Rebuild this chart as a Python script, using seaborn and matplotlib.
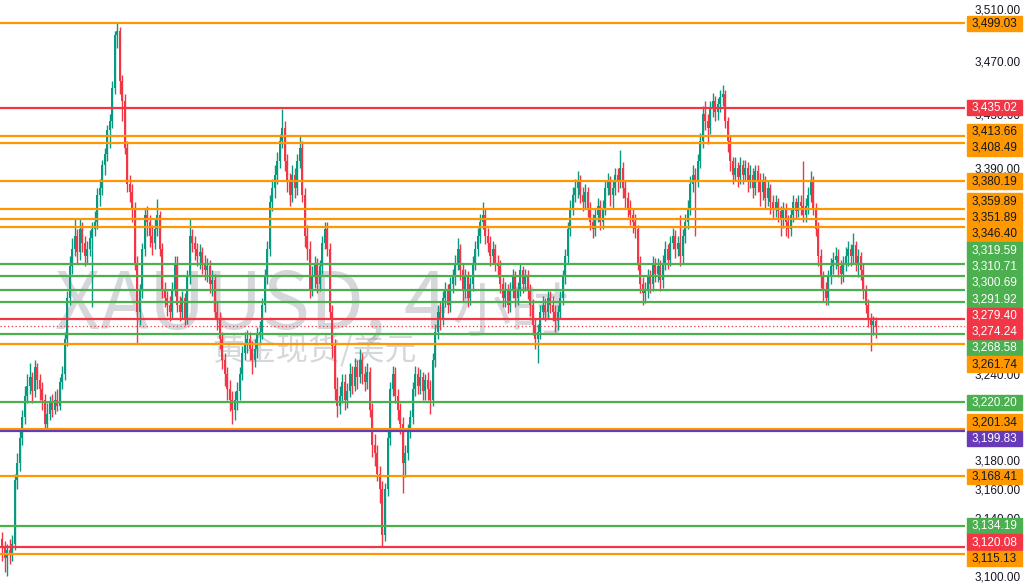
import numpy as np
import pandas as pd
import matplotlib
matplotlib.use("Agg")
import matplotlib.pyplot as plt
import seaborn as sns
from matplotlib.patches import Rectangle

# 4h candles (open = previous close)
first_open = 3125
closes = [
    3120, 3112, 3118, 3115, 3122, 3166, 3178, 3195, 3210, 3225,
    3232, 3238, 3228, 3245, 3236, 3230, 3222, 3205, 3212, 3220,
    3215, 3222, 3218, 3235, 3240, 3265, 3295, 3318, 3330, 3340,
    3328, 3345, 3335, 3325, 3330, 3338, 3345, 3350, 3370, 3375,
    3392, 3400, 3418, 3425, 3450, 3490, 3493, 3455, 3440, 3405,
    3378, 3372, 3360, 3320, 3285, 3300, 3330, 3355, 3350, 3340,
    3335, 3345, 3355, 3330, 3300, 3295, 3290, 3285, 3300, 3320,
    3290, 3285, 3295, 3280, 3310, 3340, 3335, 3330, 3325, 3328,
    3320, 3315, 3318, 3305, 3308, 3285, 3280, 3265, 3250, 3240,
    3230, 3222, 3215, 3222, 3228, 3240, 3255, 3262, 3265, 3258,
    3250, 3258, 3268, 3270, 3290, 3310, 3330, 3365, 3375, 3385,
    3395, 3410, 3420, 3395, 3380, 3370, 3385, 3375, 3395, 3405,
    3370, 3340, 3330, 3300, 3310, 3320, 3305, 3318, 3335, 3345,
    3330, 3285, 3260, 3230, 3218, 3225, 3235, 3222, 3228, 3240,
    3232, 3245, 3238, 3250, 3240, 3235, 3242, 3215, 3190, 3185,
    3170, 3160, 3128, 3160, 3195, 3230, 3240, 3225, 3215, 3205,
    3178, 3185, 3200, 3210, 3230, 3240, 3232, 3238, 3228, 3236,
    3230, 3222, 3250, 3270, 3285, 3280, 3295, 3300, 3290, 3305,
    3310, 3320, 3330, 3315, 3300, 3310, 3295, 3305, 3320, 3330,
    3340, 3350, 3355, 3340, 3335, 3325, 3330, 3320, 3318, 3305,
    3295, 3300, 3290, 3300, 3310, 3295, 3300, 3315, 3305, 3310,
    3300, 3290, 3275, 3265, 3270, 3285, 3290, 3285, 3295, 3290,
    3285, 3278, 3285, 3295, 3310, 3325, 3345, 3360, 3370, 3375,
    3380, 3370, 3365, 3372, 3360, 3350, 3345, 3355, 3362, 3350,
    3360, 3375, 3380, 3370, 3375, 3385, 3380, 3390, 3375, 3368,
    3360, 3355, 3350, 3345, 3320, 3305, 3298, 3300, 3310, 3305,
    3320, 3312, 3318, 3308, 3320, 3330, 3322, 3335, 3340, 3330,
    3335, 3325, 3340, 3350, 3360, 3378, 3385, 3380, 3395, 3410,
    3430, 3425, 3420, 3435, 3440, 3432, 3438, 3443, 3445, 3425,
    3410, 3395, 3385, 3390, 3383, 3392, 3385, 3390, 3380, 3385,
    3375, 3388, 3380, 3372, 3380, 3368, 3375, 3365, 3360, 3365,
    3358, 3352, 3360, 3350, 3345, 3355, 3365, 3358, 3365, 3362,
    3355, 3362, 3370, 3380, 3360, 3345, 3325, 3310, 3300, 3295,
    3310, 3318, 3322, 3325, 3318, 3312, 3320, 3325, 3330, 3325,
    3333, 3320, 3325, 3315, 3300, 3290, 3280, 3275, 3278, 3274,
]
highs = [
    3130, 3124, 3122, 3125, 3128, 3170, 3185, 3200, 3215, 3232,
    3240, 3248, 3242, 3250, 3248, 3240, 3235, 3226, 3220, 3225,
    3226, 3228, 3230, 3238, 3246, 3270, 3300, 3325, 3338, 3352,
    3345, 3352, 3350, 3340, 3336, 3344, 3350, 3358, 3375, 3382,
    3396, 3405, 3422, 3430, 3455, 3493, 3500, 3496, 3460, 3445,
    3410, 3385, 3378, 3365, 3325, 3305, 3335, 3360, 3362, 3355,
    3348, 3352, 3367, 3358, 3335, 3306, 3300, 3296, 3306, 3325,
    3325, 3296, 3300, 3298, 3315, 3353, 3345, 3340, 3335, 3334,
    3332, 3326, 3324, 3322, 3315, 3312, 3292, 3285, 3270, 3255,
    3245, 3236, 3228, 3228, 3235, 3245, 3260, 3270, 3272, 3270,
    3264, 3265, 3274, 3278, 3295, 3316, 3336, 3370, 3382, 3392,
    3402, 3415, 3434, 3425, 3400, 3386, 3392, 3390, 3400, 3414,
    3410, 3375, 3348, 3336, 3318, 3325, 3324, 3322, 3340, 3350,
    3350, 3335, 3290, 3265, 3238, 3232, 3240, 3240, 3234, 3248,
    3246, 3252, 3250, 3258, 3255, 3246, 3248, 3245, 3220, 3198,
    3190, 3176, 3165, 3164, 3200, 3235, 3246, 3245, 3230, 3220,
    3210, 3190, 3205, 3215, 3235, 3246, 3245, 3244, 3242, 3240,
    3242, 3236, 3255, 3276, 3290, 3292, 3300, 3306, 3305, 3310,
    3316, 3326, 3338, 3334, 3320, 3316, 3314, 3310, 3325, 3336,
    3346, 3356, 3365, 3360, 3346, 3340, 3336, 3334, 3326, 3322,
    3310, 3306, 3305, 3306, 3316, 3314, 3306, 3320, 3318, 3316,
    3315, 3305, 3294, 3280, 3276, 3290, 3296, 3295, 3300, 3300,
    3296, 3290, 3290, 3300, 3315, 3330, 3350, 3366, 3376, 3382,
    3388, 3385, 3376, 3378, 3376, 3365, 3356, 3360, 3368, 3366,
    3366, 3380, 3386, 3384, 3380, 3390, 3390, 3403, 3394, 3380,
    3372, 3366, 3360, 3356, 3348, 3325, 3310, 3306, 3316, 3315,
    3325, 3324, 3324, 3322, 3326, 3336, 3334, 3340, 3346, 3344,
    3340, 3355, 3345, 3356, 3366, 3384, 3392, 3390, 3400, 3416,
    3436, 3440, 3430, 3440, 3446, 3444, 3442, 3448, 3452, 3448,
    3428, 3414, 3398, 3398, 3394, 3398, 3396, 3396, 3394, 3392,
    3390, 3392, 3392, 3386, 3386, 3384, 3380, 3378, 3370, 3370,
    3368, 3362, 3365, 3364, 3355, 3360, 3370, 3368, 3370, 3370,
    3395, 3368, 3376, 3388, 3384, 3364, 3350, 3330, 3314, 3306,
    3315, 3324, 3328, 3332, 3330, 3322, 3325, 3332, 3336, 3334,
    3342, 3336, 3330, 3328, 3320, 3304, 3294, 3284, 3282, 3281,
]
lows = [
    3110, 3103, 3100, 3108, 3110, 3118, 3160, 3172, 3190, 3205,
    3220, 3226, 3220, 3224, 3230, 3222, 3215, 3200, 3202, 3208,
    3210, 3212, 3214, 3215, 3230, 3236, 3260, 3290, 3312, 3325,
    3320, 3322, 3328, 3318, 3320, 3325, 3288, 3340, 3345, 3362,
    3370, 3385, 3395, 3405, 3420, 3445, 3480, 3445, 3425, 3400,
    3372, 3365, 3350, 3315, 3262, 3275, 3295, 3325, 3340, 3332,
    3326, 3330, 3340, 3325, 3295, 3288, 3282, 3278, 3280, 3296,
    3285, 3278, 3280, 3275, 3276, 3305, 3328, 3322, 3318, 3316,
    3312, 3308, 3306, 3298, 3296, 3280, 3272, 3258, 3244, 3232,
    3222, 3214, 3205, 3208, 3215, 3222, 3236, 3250, 3255, 3250,
    3240, 3245, 3252, 3262, 3265, 3285, 3305, 3325, 3358, 3368,
    3378, 3390, 3405, 3388, 3372, 3362, 3365, 3368, 3370, 3390,
    3365, 3332, 3322, 3295, 3296, 3302, 3298, 3300, 3312, 3330,
    3325, 3280, 3252, 3222, 3210, 3212, 3220, 3215, 3216, 3224,
    3226, 3228, 3230, 3234, 3233, 3228, 3230, 3210, 3182, 3176,
    3165, 3150, 3120, 3124, 3155, 3190, 3225, 3220, 3208, 3198,
    3157, 3168, 3180, 3195, 3205, 3225, 3226, 3226, 3222, 3222,
    3222, 3212, 3218, 3245, 3265, 3272, 3275, 3288, 3284, 3285,
    3298, 3304, 3315, 3308, 3292, 3295, 3288, 3290, 3300, 3315,
    3325, 3335, 3345, 3334, 3328, 3318, 3320, 3314, 3310, 3298,
    3288, 3288, 3284, 3285, 3295, 3288, 3290, 3296, 3298, 3300,
    3294, 3282, 3268, 3258, 3248, 3265, 3280, 3278, 3280, 3284,
    3278, 3270, 3272, 3280, 3290, 3305, 3320, 3340, 3355, 3365,
    3368, 3364, 3358, 3360, 3354, 3344, 3338, 3340, 3350, 3344,
    3345, 3355, 3370, 3362, 3360, 3370, 3372, 3375, 3368, 3360,
    3354, 3348, 3342, 3338, 3315, 3298, 3290, 3291, 3295, 3298,
    3300, 3306, 3306, 3300, 3302, 3315, 3316, 3318, 3330, 3324,
    3325, 3318, 3320, 3335, 3345, 3355, 3372, 3340, 3376, 3390,
    3405, 3418, 3408, 3415, 3428, 3425, 3426, 3432, 3436, 3420,
    3402, 3388, 3378, 3380, 3376, 3378, 3378, 3380, 3372, 3375,
    3368, 3370, 3372, 3362, 3366, 3360, 3362, 3356, 3352, 3354,
    3350, 3340, 3346, 3340, 3338, 3340, 3350, 3352, 3354, 3355,
    3350, 3350, 3356, 3365, 3355, 3340, 3318, 3302, 3292, 3290,
    3290, 3305, 3312, 3316, 3310, 3305, 3306, 3314, 3318, 3318,
    3320, 3314, 3310, 3308, 3294, 3284, 3274, 3257, 3268, 3266,
]

# horizontal levels drawn on the chart
level_prices = [3499.03, 3435.02, 3413.66, 3408.49, 3380.19, 3359.89, 3351.89,
                3346.40, 3319.59, 3310.71, 3300.69, 3291.92, 3279.40, 3268.58,
                3261.74, 3220.20, 3201.34, 3199.83, 3168.41, 3134.19, 3120.08,
                3115.13]
level_kinds = ["o", "r", "o", "o", "o", "o", "o", "o", "g", "g", "g", "g",
               "r", "g", "o", "g", "o", "p", "o", "g", "r", "o"]
last_price = 3274.24

tick_prices = [3510, 3470, 3430, 3390, 3240, 3180, 3160, 3140, 3100]

watermark_symbol = "XAUUSD, 4"
watermark_period = "小时"
watermark_sub = "黄金现货/美元"

kind_colors = {"o": "#FF9800", "r": "#F23645", "g": "#4CAF50", "p": "#673AB7"}
kind_text = {"o": "#131722", "r": "white", "g": "white", "p": "white"}
up_color = "#089981"
down_color = "#F23645"

sns.set_theme(style="white")
plt.rcParams["font.family"] = ["Noto Sans CJK SC", "DejaVu Sans"]

df = pd.DataFrame({"close": closes, "high": highs, "low": lows})
df["open"] = [first_open] + closes[:-1]
df["idx"] = np.arange(len(df))
df["color"] = np.where(df["close"] >= df["open"], up_color, down_color)
df["body_lo"] = df[["open", "close"]].min(axis=1)
df["body_h"] = (df["close"] - df["open"]).abs().clip(lower=0.6)

W, H = 1024, 587
fig = plt.figure(figsize=(W / 100, H / 100), dpi=100)
ax = fig.add_axes([0, 0, 965 / W, 1])
ax.set_yscale("log")
ax.set_ylim(3092.6, 3517)
ax.set_xlim(-0.8, 384.7)

# watermark
wm_color = "#787b86"
t1 = ax.text(55 / 965, 0.441, watermark_symbol, transform=ax.transAxes,
             ha="left", va="baseline", fontsize=57, color=wm_color, alpha=0.3,
             zorder=0, family=["Liberation Sans Narrow", "Noto Sans CJK SC"])
ax.annotate(watermark_period, xy=(1, 0), xycoords=t1, xytext=(3, 1),
            textcoords="offset points", ha="left", va="bottom", fontsize=42,
            color=wm_color, alpha=0.3, zorder=0)
ax.text(0.326, 0.405, watermark_sub, transform=ax.transAxes, ha="center",
        va="center", fontsize=23, color=wm_color, alpha=0.3, zorder=0)

# candles
ax.vlines(df["idx"], df["low"], df["high"], colors=df["color"], lw=1, zorder=2)
ax.bar(df["idx"], df["body_h"], bottom=df["body_lo"], width=0.8,
       color=df["color"], linewidth=0, zorder=2)

# levels
for p, k in zip(level_prices, level_kinds):
    ax.axhline(p, color=kind_colors[k], lw=1.6, zorder=3)
ax.axhline(last_price, color=kind_colors["r"], lw=0.9, ls=(0, (1, 2)), zorder=3)

# right price scale
ax.yaxis.tick_right()
ax.set_yticks(tick_prices)
ax.set_yticklabels([f"{t:,.2f}" for t in tick_prices])
ax.yaxis.set_minor_locator(matplotlib.ticker.NullLocator())
ax.tick_params(axis="y", length=0, pad=7, labelsize=8.5, labelcolor="#131722")
for lab in ax.get_yticklabels():
    lab.set_family("Liberation Sans")
ax.set_xticks([])
for s in ax.spines.values():
    s.set_visible(False)

# price labels, stacked so they do not overlap
labels = [(p, k) for p, k in zip(level_prices, level_kinds)] + [(last_price, "r")]
want = [H - ax.transData.transform((0, p))[1] for p, _ in labels]
order = np.argsort(want)
box_h = 16.3
groups = []
for j in order:
    groups.append([j])
    while len(groups) > 1:
        a, b = groups[-2], groups[-1]
        ca = np.mean([want[m] for m in a]) + box_h * (len(a) - 1) / 2
        cb = np.mean([want[m] for m in b]) - box_h * (len(b) - 1) / 2
        if cb - ca < box_h:
            groups[-2:] = [a + b]
        else:
            break
place = {}
for g in groups:
    g = sorted(g, key=lambda m: want[m])
    c = np.mean([want[m] for m in g])
    for n, m in enumerate(g):
        place[m] = c - box_h * (len(g) - 1) / 2 + box_h * n

for m, (p, k) in enumerate(labels):
    yc = place[m]
    fig.patches.append(Rectangle((967 / W, (H - yc - 7.8) / H), 55 / W, 15.6 / H,
                                 transform=fig.transFigure, color=kind_colors[k],
                                 zorder=5))
    fig.text(972 / W, (H - yc) / H, f"{p:,.2f}", ha="left", va="center",
             fontsize=8.5, family="Liberation Sans", color=kind_text[k], zorder=6)

fig.savefig("out.png", dpi=100, facecolor="white")
